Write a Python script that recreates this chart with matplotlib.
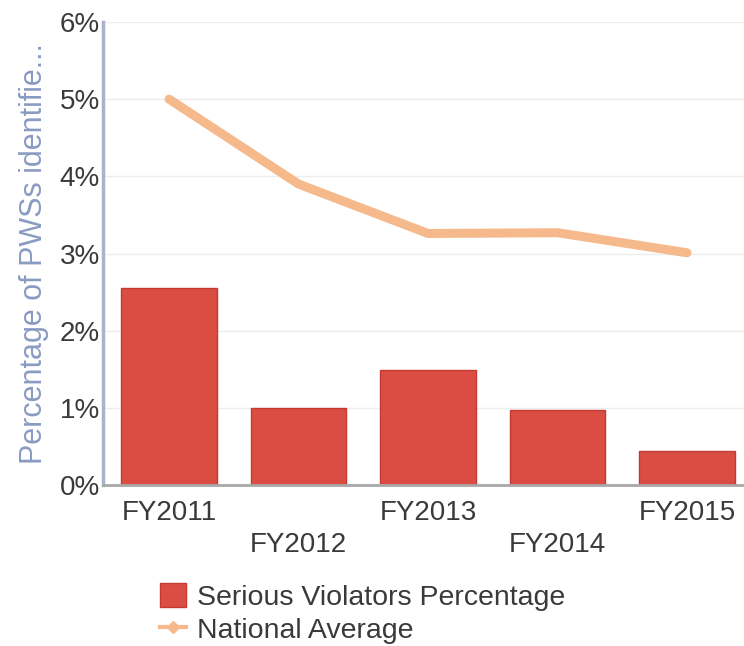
import matplotlib.pyplot as plt
from matplotlib.lines import Line2D
from matplotlib.patches import Patch
from matplotlib.ticker import PercentFormatter

years = ["FY2011", "FY2012", "FY2013", "FY2014", "FY2015"]
serious_pct = [2.55, 1.0, 1.49, 0.97, 0.44]
national_avg = [5.0, 3.9, 3.26, 3.27, 3.01]

plt.rcParams['font.family'] = ['Liberation Sans', 'DejaVu Sans']

fig = plt.figure(figsize=(7.44, 6.46), dpi=100)
ax = fig.add_axes([0.138, 0.249, 0.862, 0.717])

x = range(len(years))
ax.bar(x, serious_pct, width=0.74, color="#db4d43", edgecolor="#c23a32",
       linewidth=1, zorder=2)
ax.plot(x, national_avg, color="#f6b98c", linewidth=6.5, solid_capstyle="round",
        zorder=3)

ax.set_xlim(-0.513, 4.44)
ax.set_ylim(0, 6)
ax.set_yticks(range(7))
ax.yaxis.set_major_formatter(PercentFormatter(decimals=0))
ax.grid(axis="y", color="#ededed", linewidth=1, zorder=0)
ax.set_axisbelow(True)

ax.set_xticks(list(x))
ax.set_xticklabels([])
for i, lab in enumerate(years):
    # alternate labels drop lower so they don't collide
    dy = -0.36 if i % 2 == 0 else -0.77
    ax.text(i, dy, lab, ha="center", va="center", fontsize=20,
            color="#3a3a3a", clip_on=False)
ax.tick_params(axis="x", length=0)
ax.tick_params(axis="y", length=0, labelsize=20, labelcolor="#3a3a3a", pad=2)

for side in ("top", "right"):
    ax.spines[side].set_visible(False)
ax.spines["left"].set_color("#aab3cc")
ax.spines["left"].set_linewidth(2.5)
ax.spines["bottom"].set_color("#a8a8a8")
ax.spines["bottom"].set_linewidth(2)

ax.set_ylabel("Percentage of PWSs identifie...", fontsize=22, color="#8a9bc2",
              labelpad=8)

handles = [
    Patch(facecolor="#db4d43", edgecolor="#c23a32"),
    Line2D([0], [0], color="#f6b98c", linewidth=3, marker="D", markersize=6,
           markerfacecolor="#f6b98c"),
]
fig.legend(handles, ["Serious Violators Percentage", "National Average"],
           loc="upper left", bbox_to_anchor=(0.215, 0.097), frameon=False,
           fontsize=20.5, labelcolor="#3a3a3a", handlelength=0.9,
           handleheight=0.9, handletextpad=0.4, labelspacing=0.18,
           borderpad=0, borderaxespad=0)

fig.savefig("out.png", dpi=100)
